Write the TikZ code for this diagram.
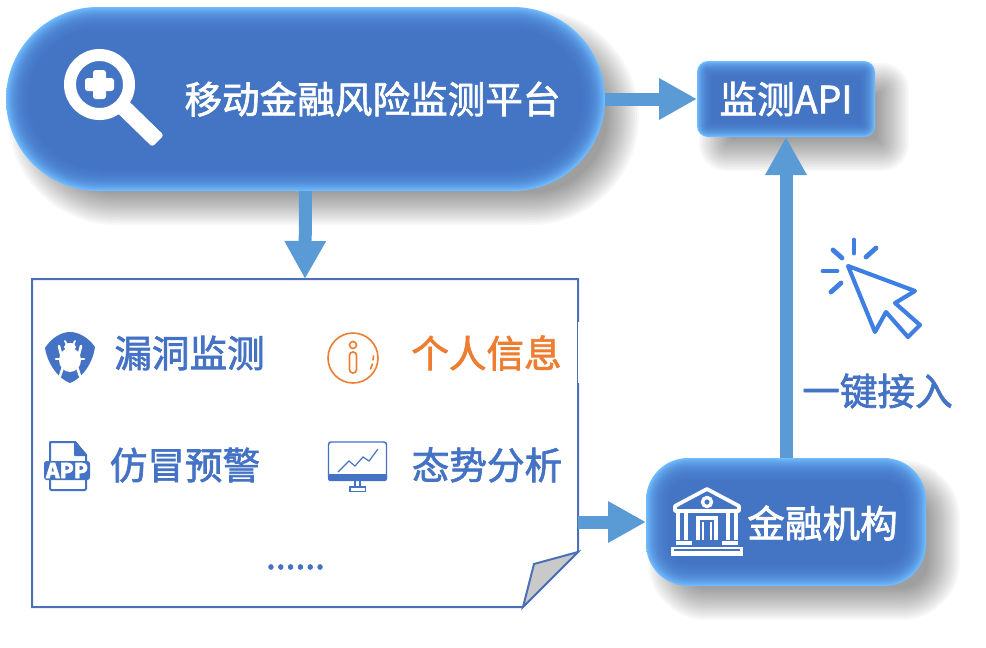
\documentclass[tikz,border=0pt]{standalone}
\usepackage{fontspec}
\setmainfont[FakeBold=1.8]{Noto Sans CJK SC}
\usetikzlibrary{arrows.meta}
\definecolor{panelblue}{HTML}{4472C4}
\definecolor{glowblue}{HTML}{70BCFF}
\definecolor{sideblue}{HTML}{4C88E8}
\definecolor{linkblue}{HTML}{5B9BD5}
\definecolor{infoorange}{HTML}{ED7D31}
\definecolor{pagefold}{HTML}{C9C9C9}
\definecolor{cursorblue}{HTML}{3F7FE3}
\definecolor{pageline}{HTML}{4C70B8}

% soft shadow and inner glow of a box: x0, y0, x1, y1, radius, glow depth
\newcommand{\softbox}[6]{
    \foreach \k in {-16,-14,...,16} {
        \pgfmathsetmacro{\rr}{max(#5+\k,1)*0.75}
        \fill[black, opacity=0.026, rounded corners=\rr pt] ({#1+18-\k},{#2+18-\k}) rectangle ({#3+18+\k},{#4+18+\k});
    }
    \pgfmathsetmacro{\rr}{#5*0.75}
    \shade[top color=glowblue, middle color=sideblue, bottom color=glowblue, rounded corners=\rr pt] (#1,#2) rectangle (#3,#4);
    \pgfmathsetmacro{\aa}{2.4/#6}
    \foreach \k in {1,...,#6} {
        \pgfmathsetmacro{\rr}{max(#5-\k,1)*0.75}
        \fill[panelblue, opacity=\aa, rounded corners=\rr pt] ({#1+\k},{#2+\k}) rectangle ({#3-\k},{#4-\k});
    }
}

\begin{document}
\begin{tikzpicture}[x=0.75pt, y=-0.75pt,
    boxnode/.style={inner sep=0pt, outer sep=0pt},
    whitelabel/.style={text=white, font=\fontsize{28.2}{30}\selectfont},
    bluelabel/.style={text=panelblue, font=\fontsize{28.2}{30}\selectfont},
    link/.style={draw=linkblue, line width=9.75pt, -{Triangle[width=29.25pt, length=28.5pt]}},
    iconline/.style={draw=panelblue, line width=1.5pt}]
    \useasboundingbox (0,0) rectangle (986,647);

    % Blue Boxes
    \softbox{6}{7}{605}{191}{92}{24}
    \softbox{697}{61}{875}{137}{11}{16}
    \softbox{646}{458}{926}{586}{42}{24}
    \node[boxnode, minimum width=449.25pt, minimum height=138pt] (platform) at (305.5,99) {};
    \node[boxnode, minimum width=133.5pt, minimum height=57pt] (api) at (786,99) {};
    \node[boxnode, minimum width=210pt, minimum height=96pt] (bank) at (786,522) {};

    % Folded Page
    \draw[draw=pageline, fill=white, line width=1.5pt] (32,279) -- (578,279) -- (578,552) -- (523,607) -- (32,607) -- cycle;
    \draw[draw=pageline, fill=pagefold, line width=1.5pt] (523,607) -- (534,564) -- (578,552) -- cycle;
    \fill[white] (578.2,322) rectangle (581,383);
    \node[boxnode, minimum width=409.5pt, minimum height=246pt] (page) at (305,443) {};

    % Connectors
    \draw[link] (platform.east) -- (api.west);
    \draw[link] (platform.south) -- (page.north);
    \draw[link] (page.east |- bank.west) -- (bank.west);
    \draw[link] (bank.north) -- (api.south);

    % Labels
    \node[whitelabel] (platformlabel) at (372.5,99) {移动金融风险监测平台};
    \node[whitelabel] (apilabel) at (786,99) {监测API};
    \node[whitelabel] (banklabel) at (822.5,523) {金融机构};
    \node[bluelabel] (hole) at (189.5,353) {漏洞监测};
    \node[bluelabel, text=infoorange] (privacy) at (486.5,353) {个人信息};
    \node[bluelabel] (phishing) at (185,465) {仿冒预警};
    \node[bluelabel] (trend) at (487,465) {态势分析};
    \node[bluelabel, font=\fontsize{26.5}{28}\selectfont] (more) at (295.5,567) {......};
    \node[bluelabel] (access) at (877.5,391) {一键接入};

    % Magnifier Icon
    \draw[white, line width=9pt] (99.5,84.5) circle (29.5);
    \fill[white, rounded corners=2pt] (125.8,98.2) -- (163.8,135.2) -- (152.2,146.8) -- (114.2,109.8) -- cycle;
    \fill[white, rounded corners=2pt] (85,78) rectangle (114,91);
    \fill[white, rounded corners=2pt] (93,70) rectangle (106,99);

    % Bug Icon
    \fill[panelblue] (45,348) .. controls (52,337) and (62,332) .. (70,332) .. controls (78,332) and (88,337) .. (95,347) .. controls (93,362) and (83,378) .. (70,383) .. controls (57,378) and (47,362) .. (45,348) -- cycle;
    \fill[white] (70,360) ellipse (11 and 12);
    \fill[white] (70,347) ellipse (6 and 4);
    \foreach \s in {-1,1} {
        \draw[white, line width=2pt, line cap=round] ({70+\s*11},346) -- ({70+\s*9},354);
        \draw[white, line width=2pt, line cap=round] ({70+\s*14},359) -- ({70+\s*8},359);
        \draw[white, line width=2pt, line cap=round] ({70+\s*10},376) -- ({70+\s*7},367);
        \draw[white, line width=1.4pt, line cap=round] ({70+\s*5},341) -- ({70+\s*3},345);
    }

    % App Icon
    \draw[iconline, line join=round] (50,461) -- (50,442) -- (75,442) -- (86,455) -- (86,461);
    \draw[iconline, fill=panelblue, line join=round] (75,442) -- (75,455) -- (86,455) -- cycle;
    \draw[iconline, rounded corners=1pt] (50,480) -- (50,490) -- (86,490) -- (86,480);
    \fill[panelblue, rounded corners=2pt] (44,461) rectangle (90,480);
    \node[text=white, font=\fontsize{15.5}{18}\selectfont\bfseries, inner sep=0pt] (apptext) at (67,470.5) {APP};

    % Info Icon
    \draw[infoorange, line width=1.2pt] (353,358) circle (25);
    \draw[infoorange, line width=1.2pt] (353,345) circle (3.5);
    \draw[infoorange, line width=1.2pt, rounded corners=2.5pt] (349.5,352) rectangle (356.5,373);
    \draw[infoorange, line width=1.2pt, line cap=round] (373.5,356) -- (373,360);
    \draw[infoorange, line width=1.2pt, line cap=round] (372.5,364) -- (370.5,369);

    % Monitor Icon
    \draw[iconline, line width=1.1pt, rounded corners=2pt] (328.5,442) rectangle (386.5,480);
    \fill[panelblue, rounded corners=1.5pt] (328,474) rectangle (387,481);
    \draw[iconline, line width=0.9pt] (338,472) -- (349,461) -- (355,466) -- (363,457) -- (369,461) -- (378,449);
    \draw[iconline, line width=0.9pt] (355,481) -- (355,487) (360,481) -- (360,487);
    \draw[iconline, line width=0.9pt] (350,487) rectangle (365.5,491.5);

    % Bank Icon
    \draw[white, line width=2.8pt, line join=round] (707,489) -- (675,506) -- (675,511) -- (739,511) -- (739,506) -- cycle;
    \draw[white, line width=2.5pt] (707,502) circle (4.5);
    \draw[white, line width=2.5pt] (678,513) -- (678,540) (686,513) -- (686,540);
    \draw[white, line width=2.5pt] (728,513) -- (728,540) (736,513) -- (736,540);
    \draw[white, line width=2.5pt] (698,540) -- (698,518) -- (716,518) -- (716,540);
    \draw[white, line width=2pt] (703,522) -- (703,540) (711,522) -- (711,540);
    \draw[white, line width=3pt] (676,543) -- (692,543) (722,543) -- (738,543);
    \draw[white, line width=2.2pt] (672.5,548) rectangle (741.5,555);
    \fill[white] (672,551) rectangle (742,556);

    % Cursor Icon
    \draw[draw=cursorblue, line width=3.1pt, line join=round] (848,266) -- (915,291) -- (895,303) -- (920,325) -- (908,337) -- (886,312) -- (875,332) -- cycle;
    \foreach \xa/\ya/\xb/\yb in {833/250/842/258, 854/240/854/253, 876/248/866/257, 823/271/837/271, 841/283/831/292} {
        \draw[draw=cursorblue, line width=3.6pt, line cap=round] (\xa,\ya) -- (\xb,\yb);
    }
\end{tikzpicture}
\end{document}
